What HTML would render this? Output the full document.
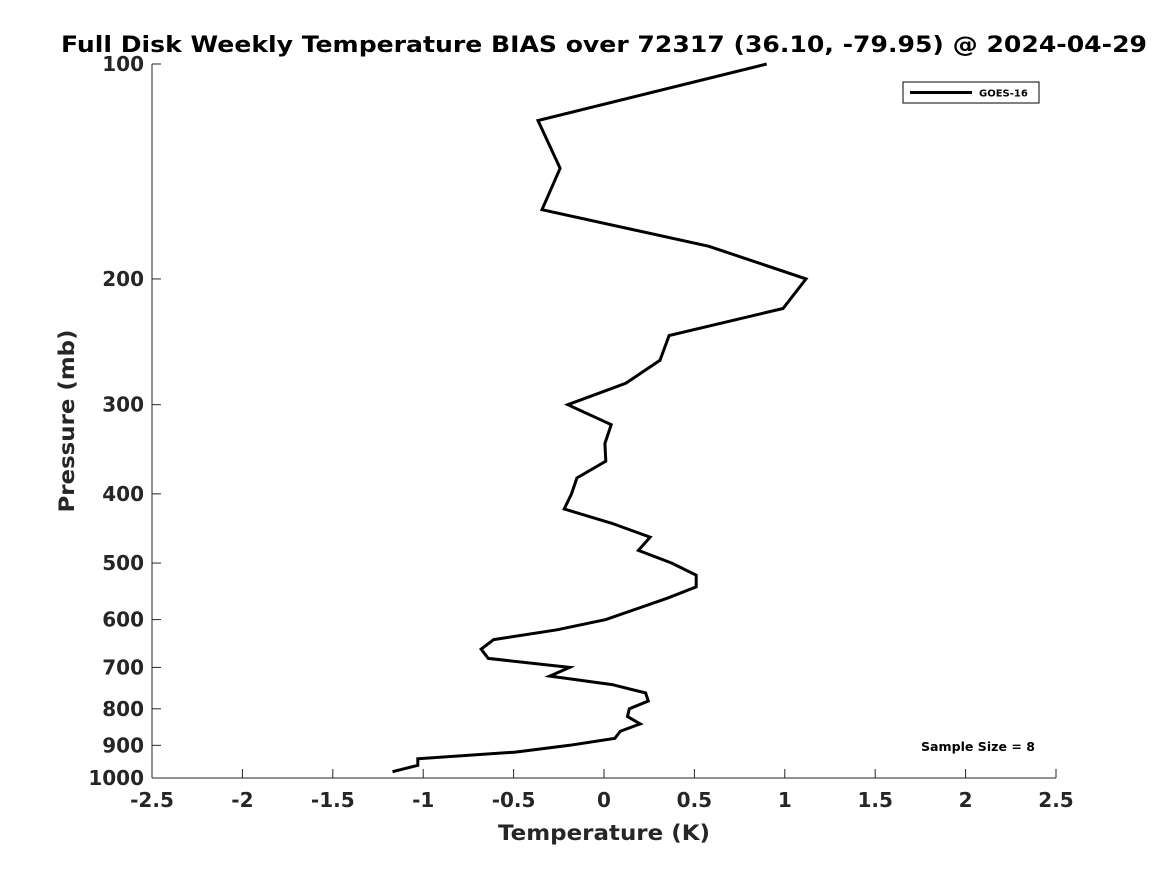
<!DOCTYPE html>
<html><head><meta charset="utf-8"><style>
body{margin:0;background:#fff;}
svg text{font-family:"DejaVu Sans","Liberation Sans",sans-serif;font-weight:bold;fill:#262626;}
</style></head><body>
<svg id="chart" width="1167" height="875" viewBox="0 0 1167 875" xmlns="http://www.w3.org/2000/svg">
<rect width="1167" height="875" fill="#fff"/>
<text x="604" y="52" text-anchor="middle" font-size="22" textLength="1086" lengthAdjust="spacingAndGlyphs" style="fill:#000">Full Disk Weekly Temperature BIAS over 72317 (36.10, -79.95) @ 2024-04-29</text>
<g id="axes"></g>
<g id="series"></g>
<g>
<rect x="903" y="82" width="136" height="21" fill="#fff" stroke="#000" stroke-width="1"/>
<line x1="910" y1="92.5" x2="972" y2="92.5" stroke="#000" stroke-width="3"/>
<text x="979" y="96.5" font-size="10" style="fill:#000">GOES-16</text>
</g>
<text x="921" y="751" font-size="12" textLength="114" lengthAdjust="spacingAndGlyphs" style="fill:#000">Sample Size = 8</text>
<text x="604" y="840" text-anchor="middle" font-size="21" textLength="212" lengthAdjust="spacingAndGlyphs">Temperature (K)</text>
<text transform="translate(74,421) rotate(-90)" text-anchor="middle" font-size="21" textLength="183" lengthAdjust="spacingAndGlyphs">Pressure (mb)</text>
</svg>
<script>
const xTicks=[-2.5,-2,-1.5,-1,-0.5,0,0.5,1,1.5,2,2.5];
const yTicks=[100,200,300,400,500,600,700,800,900,1000];
const pressures=[100,120,140,160,180,200,220,240,260,280,300,320,340,360,380,400,420,440,460,480,500,520,540,560,600,620,640,660,680,700,720,740,760,780,800,820,840,860,880,900,920,940,960,980];
const bias=[0.90,-0.365,-0.243,-0.343,0.58,1.117,0.99,0.36,0.31,0.12,-0.2,0.04,0.005,0.01,-0.15,-0.18,-0.22,0.045,0.255,0.19,0.375,0.51,0.51,0.35,0.01,-0.26,-0.61,-0.68,-0.64,-0.19,-0.30,0.045,0.23,0.245,0.14,0.13,0.2,0.09,0.06,-0.19,-0.49,-1.03,-1.03,-1.17];
const X0=152,X1=1056,Y0=64,Y1=778;
const xs=v=>X0+(v+2.5)/5*(X1-X0);
const ys=p=>Y0+Math.log10(p/100)*(Y1-Y0);
const NS="http://www.w3.org/2000/svg";
const ax=document.getElementById('axes');
function mk(t,a,p){const e=document.createElementNS(NS,t);for(const k in a)e.setAttribute(k,a[k]);p.appendChild(e);return e;}
const yl=mk('line',{x1:X0,y1:Y0,x2:X0,y2:Y1,stroke:'#262626','stroke-width':1},ax);


const xl=mk('line',{x1:X0,y1:Y1,x2:X1,y2:Y1,stroke:'#262626','stroke-width':1},ax);


xTicks.forEach(v=>{
 const x=xs(v);
 mk('line',{x1:x,y1:Y1,x2:x,y2:Y1-9,stroke:'#262626'},ax);
 const t=mk('text',{x:x,y:Y1+29,'text-anchor':'middle','font-size':20},ax);
 t.textContent=String(v);
 
 
});
yTicks.forEach(p=>{
 const y=ys(p);
 mk('line',{x1:X0,y1:y,x2:X0+9,y2:y,stroke:'#262626'},ax);
 const t=mk('text',{x:X0-8,y:y+7,'text-anchor':'end','font-size':20},ax);
 t.textContent=String(p);
 
 
});
const pts=pressures.map((p,i)=>xs(bias[i]).toFixed(1)+','+ys(p).toFixed(1)).join(' ');
const pl=mk('polyline',{points:pts,fill:'none',stroke:'#000','stroke-width':3,'stroke-linejoin':'miter'},document.getElementById('series'));


</script>
</body></html>
